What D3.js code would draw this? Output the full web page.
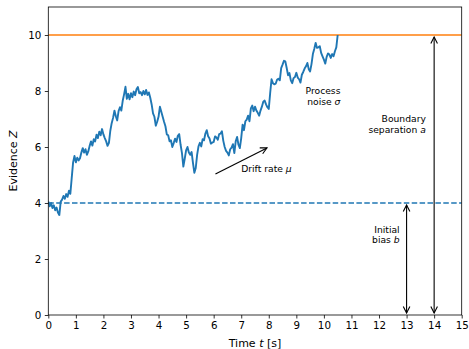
<!DOCTYPE html>
<html>
<head>
<meta charset="utf-8">
<script src="https://cdn.jsdelivr.net/npm/d3@7"></script>
<style>
  html, body { margin: 0; padding: 0; background: #fff; }
  svg { display: block; font-family: "DejaVu Sans", sans-serif; }
  .it { font-style: italic; }
</style>
</head>
<body>
<svg id="chart" width="469" height="349"></svg>
<script>
// Simulated evidence trace of a drift-diffusion process, sampled every dt seconds
const dt = 0.05;
const evidence = [
  4.05,3.88,4.00,3.82,3.92,3.74,3.84,3.66,3.57,4.05,4.12,4.25,4.15,4.32,4.22,4.44,4.33,4.90,5.45,5.68,
  5.45,5.62,5.52,5.60,5.80,5.96,5.80,5.92,5.72,5.84,6.04,6.20,6.05,6.28,6.20,6.44,6.32,6.55,6.42,6.64,
  6.45,6.32,6.20,6.04,6.15,6.58,6.85,7.04,7.30,7.10,6.95,7.28,7.42,7.30,7.65,7.88,8.15,7.72,7.90,7.70,
  7.92,7.78,7.98,7.85,8.06,8.14,7.92,7.96,7.85,8.00,7.88,8.04,7.86,7.95,7.76,7.52,7.20,7.08,6.76,6.90,
  7.08,7.44,7.26,7.08,6.90,6.74,6.45,6.42,6.20,6.24,6.00,6.14,6.30,6.18,6.40,6.46,6.08,5.78,5.30,5.58,
  5.88,6.00,5.80,5.72,5.82,5.42,5.08,5.25,5.72,6.02,6.15,6.02,6.28,6.24,6.48,6.60,6.38,6.30,6.12,6.16,
  6.18,6.38,6.34,6.26,6.46,6.48,6.56,6.22,6.00,5.86,5.80,5.70,5.92,5.98,6.10,5.78,6.20,6.36,6.08,5.96,
  6.32,6.80,6.60,6.92,6.98,7.12,6.92,7.38,7.48,7.28,7.44,7.30,7.22,7.12,7.30,7.44,7.62,7.66,7.52,7.42,
  7.36,7.92,8.42,8.28,8.24,8.26,8.40,8.44,8.38,8.82,8.94,9.08,9.06,8.82,8.56,8.64,8.38,8.28,8.46,8.50,
  8.65,8.48,8.42,8.30,8.58,8.68,8.80,8.88,9.00,8.78,8.70,8.96,9.32,9.50,9.72,9.54,9.56,9.60,9.36,9.24,
  9.12,8.98,9.22,9.34,9.30,9.18,9.32,9.24,9.42,9.56,10.00
];

// Model parameters
const boundary = 10;      // upper decision boundary (a)
const initialBias = 4;    // starting point (b)

// Axis ticks
const xTicks = [0,1,2,3,4,5,6,7,8,9,10,11,12,13,14,15];
const yTicks = [0,2,4,6,8,10];
const xDomain = [0, 15];
const yDomain = [0, 11];

// Parameter markers (arrows), in data units
const driftArrow = { from: [6, 5], to: [8, 6] };
const separationArrow = { x: 14, y0: 0, y1: boundary };
const biasArrow = { x: 13, y0: 0, y1: initialBias };

const svg = d3.select("#chart");
const W = 469, H = 349;
const margin = { left: 48.3, right: 469 - 461.7, top: 7, bottom: 349 - 315 };

const x = d3.scaleLinear().domain(xDomain).range([margin.left, W - margin.right]);
const y = d3.scaleLinear().domain(yDomain).range([H - margin.bottom, margin.top]);

svg.append("rect").attr("width", W).attr("height", H).attr("fill", "#fff");

const blue = "#1f77b4", orange = "#ff7f0e";

// Clip for data lines
svg.append("clipPath").attr("id", "plotClip")
  .append("rect")
  .attr("x", x(0)).attr("y", y(11))
  .attr("width", x(15) - x(0)).attr("height", y(0) - y(11));

const plot = svg.append("g").attr("clip-path", "url(#plotClip)");

// Initial bias (dashed) and upper boundary
plot.append("line")
  .attr("x1", x(0)).attr("x2", x(15))
  .attr("y1", y(initialBias)).attr("y2", y(initialBias))
  .attr("stroke", blue).attr("stroke-width", 1.5)
  .attr("stroke-dasharray", "5.5,2.4");

plot.append("line")
  .attr("x1", x(0)).attr("x2", x(15))
  .attr("y1", y(boundary)).attr("y2", y(boundary))
  .attr("stroke", orange).attr("stroke-width", 1.6);

// Evidence trace
const line = d3.line()
  .x((d, i) => x(i * dt))
  .y(d => y(d));

plot.append("path")
  .datum(evidence)
  .attr("fill", "none")
  .attr("stroke", blue)
  .attr("stroke-width", 1.9)
  .attr("stroke-linejoin", "round")
  .attr("d", line);

// Axes
const fontSize = 10.3;
const xAxis = d3.axisBottom(x).tickValues(xTicks).tickFormat(d3.format("d"))
  .tickSizeInner(3.5).tickSizeOuter(0).tickPadding(3.5);
const yAxis = d3.axisLeft(y).tickValues(yTicks).tickFormat(d3.format("d"))
  .tickSizeInner(3.5).tickSizeOuter(0).tickPadding(3.5);

const gx = svg.append("g").attr("transform", `translate(0,${y(0)})`).call(xAxis);
const gy = svg.append("g").attr("transform", `translate(${x(0)},0)`).call(yAxis);
[gx, gy].forEach(g => {
  g.select(".domain").remove();
  g.selectAll(".tick line").attr("stroke", "#000").attr("stroke-width", 0.8);
  g.selectAll(".tick text")
    .attr("fill", "#000")
    .style("font-family", "DejaVu Sans")
    .style("font-size", fontSize + "px");
});

// Frame
svg.append("rect")
  .attr("x", x(0)).attr("y", y(11))
  .attr("width", x(15) - x(0)).attr("height", y(0) - y(11))
  .attr("fill", "none").attr("stroke", "#000").attr("stroke-width", 0.8);

// Axis labels
const xl = svg.append("text")
  .attr("x", (x(0) + x(15)) / 2).attr("y", 346.5)
  .attr("text-anchor", "middle").style("font-size", "11px").attr("fill", "#000");
xl.append("tspan").text("Time ");
xl.append("tspan").attr("class", "it").text("t");
xl.append("tspan").text(" [s]");

const yl = svg.append("text")
  .attr("transform", `translate(17,${(y(0) + y(11)) / 2}) rotate(-90)`)
  .attr("text-anchor", "middle").style("font-size", "11px").attr("fill", "#000");
yl.append("tspan").text("Evidence ");
yl.append("tspan").attr("class", "it").text("Z");

// Arrow helper: line with open heads at chosen ends, shortened by shrink px
function arrow(p0, p1, headStart, headEnd) {
  const shrink = 2;
  let [x0, y0] = [x(p0[0]), y(p0[1])];
  let [x1, y1] = [x(p1[0]), y(p1[1])];
  const len = Math.hypot(x1 - x0, y1 - y0);
  const ux = (x1 - x0) / len, uy = (y1 - y0) / len;
  x0 += ux * shrink; y0 += uy * shrink;
  x1 -= ux * shrink; y1 -= uy * shrink;
  const g = svg.append("g").attr("stroke", "#000").attr("stroke-width", 1.1).attr("fill", "none");
  g.append("line").attr("x1", x0).attr("y1", y0).attr("x2", x1).attr("y2", y1);
  const hl = 6.5, hw = 3.3;
  const head = (tx, ty, dx, dy) => {
    // dx,dy: direction pointing into the tip
    const bx = tx - dx * hl, by = ty - dy * hl;
    const px = -dy, py = dx;
    g.append("path")
      .attr("d", `M${bx + px * hw},${by + py * hw}L${tx},${ty}L${bx - px * hw},${by - py * hw}`)
      .attr("stroke-linejoin", "miter");
  };
  if (headEnd) head(x1, y1, ux, uy);
  if (headStart) head(x0, y0, -ux, -uy);
}

arrow(driftArrow.from, driftArrow.to, false, true);
arrow([separationArrow.x, separationArrow.y0], [separationArrow.x, separationArrow.y1], true, true);
arrow([biasArrow.x, biasArrow.y0], [biasArrow.x, biasArrow.y1], true, true);

// Annotation text (lines: array of [plain, italic] pairs)
function note(tx, ty, anchor, lines) {
  const lh = 10.5;
  lines.forEach((parts, i) => {
    const t = svg.append("text")
      .attr("x", x(tx)).attr("y", y(ty) + i * lh)
      .attr("text-anchor", anchor)
      .style("font-size", "9.2px").attr("fill", "#000");
    parts.forEach(([s, it]) => {
      const sp = t.append("tspan").text(s);
      if (it) sp.attr("class", "it");
    });
  });
}

note(7.0, 5.12, "start", [[["Drift rate ", false], ["\u03bc", true]]]);
note(10.6, 7.89, "end", [[["Process", false]], [["noise ", false], ["\u03c3", true]]]);
note(13.7, 6.89, "end", [[["Boundary", false]], [["separation ", false], ["a", true]]]);
note(12.75, 2.94, "end", [[["Initial", false]], [["bias ", false], ["b", true]]]);
</script>
</body>
</html>
